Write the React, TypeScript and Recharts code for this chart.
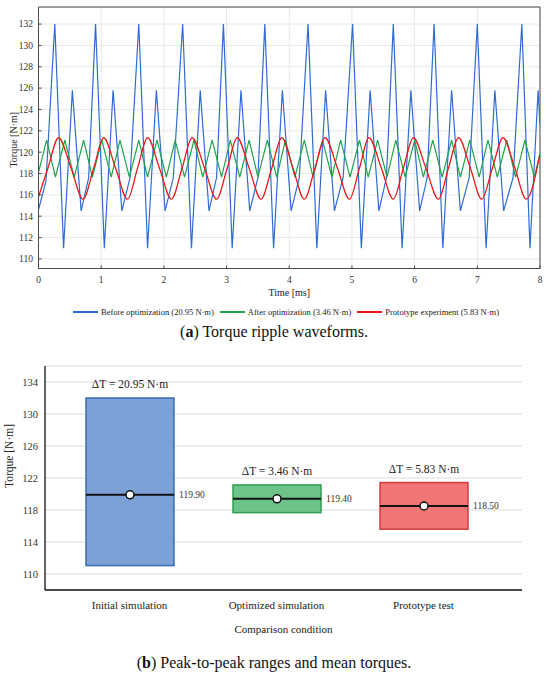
import React from "react";
import {
  LineChart,
  Line,
  BarChart,
  Bar,
  XAxis,
  YAxis,
  CartesianGrid,
  Label,
  ReferenceArea,
} from "recharts";

const FONT = '"Liberation Serif", "Times New Roman", serif';

// ---- (a) torque ripple waveforms: time [ms], torque [N·m]
const blueT = [
  0, 0.12, 0.26, 0.4, 0.54, 0.68, 0.8, 0.91, 1.05, 1.19, 1.33, 1.46, 1.6, 1.74,
  1.88, 2.02, 2.15, 2.3, 2.44, 2.58, 2.72, 2.84, 2.95, 3.09, 3.23, 3.37, 3.5,
  3.61, 3.75, 3.89, 4.03, 4.16, 4.3, 4.44, 4.58, 4.72, 4.86, 5.01, 5.15, 5.29,
  5.43, 5.55, 5.66, 5.8, 5.94, 6.08, 6.2, 6.31, 6.45, 6.59, 6.73, 6.87, 7.0,
  7.14, 7.28, 7.42, 7.57, 7.71, 7.84, 7.97, 8.0,
];
const blueV = [
  114.6, 117.3, 132, 111, 125.8, 114.5, 117.6, 132, 111, 125.8, 114.5, 117.6,
  132, 111, 125.8, 114.5, 117.6, 132, 111, 125.8, 114.5, 117.6, 132, 111, 125.8,
  114.5, 117.6, 132, 111, 125.8, 114.5, 117.6, 132, 111, 125.8, 114.5, 117.6,
  132, 111, 125.8, 114.5, 117.6, 132, 111, 125.8, 114.5, 117.6, 132, 111, 125.8,
  114.5, 117.6, 132, 111, 125.8, 114.5, 117.6, 132, 111, 125.8, 122.5,
];

const greenT = [
  0, 0.13, 0.27, 0.42, 0.57, 0.72, 0.86, 1.01, 1.16, 1.3, 1.45, 1.6, 1.74, 1.89,
  2.04, 2.18, 2.33, 2.48, 2.62, 2.77, 2.92, 3.06, 3.21, 3.36, 3.5, 3.65, 3.8,
  3.94, 4.09, 4.24, 4.38, 4.53, 4.68, 4.82, 4.97, 5.12, 5.26, 5.41, 5.56, 5.7,
  5.85, 6.0, 6.14, 6.29, 6.44, 6.59, 6.73, 6.88, 7.03, 7.17, 7.32, 7.47, 7.61,
  7.76, 7.91, 8.0,
];
const greenV = [
  118.1, 121.12, 117.66, 121.12, 117.66, 121.12, 117.66, 121.12, 117.66, 121.12,
  117.66, 121.12, 117.66, 121.12, 117.66, 121.12, 117.66, 121.12, 117.66,
  121.12, 117.66, 121.12, 117.66, 121.12, 117.66, 121.12, 117.66, 121.12,
  117.66, 121.12, 117.66, 121.12, 117.66, 121.12, 117.66, 121.12, 117.66,
  121.12, 117.66, 121.12, 117.66, 121.12, 117.66, 121.12, 117.66, 121.12,
  117.66, 121.12, 117.66, 121.12, 117.66, 121.12, 117.66, 121.12, 117.66, 119.9,
];

const redT = [
  0, 0.15, 0.32, 0.52, 0.71, 0.88, 1.04, 1.23, 1.42, 1.58, 1.74, 1.93, 2.12,
  2.29, 2.45, 2.65, 2.84, 3.01, 3.17, 3.36, 3.55, 3.72, 3.88, 4.06, 4.24, 4.41,
  4.57, 4.77, 4.96, 5.12, 5.27, 5.47, 5.66, 5.82, 5.98, 6.18, 6.38, 6.54, 6.7,
  6.89, 7.07, 7.24, 7.41, 7.6, 7.78, 8.0,
];
const redV = [
  115.8, 118.5, 121.35, 118.5, 115.6, 118.5, 121.35, 118.5, 115.6, 118.5,
  121.35, 118.5, 115.6, 118.5, 121.35, 118.5, 115.6, 118.5, 121.35, 118.5,
  115.6, 118.5, 121.35, 118.5, 115.6, 118.5, 121.35, 118.5, 115.6, 118.5,
  121.35, 118.5, 115.6, 118.5, 121.35, 118.5, 115.6, 118.5, 121.35, 118.5,
  115.6, 118.5, 121.35, 118.5, 115.6, 119.8,
];

const timeTicks = [0, 1, 2, 3, 4, 5, 6, 7, 8];
const torqueTicksA = [110, 112, 114, 116, 118, 120, 122, 124, 126, 128, 130, 132];

// ---- (b) peak-to-peak ranges
const conditions = ["Initial simulation", "Optimized simulation", "Prototype test"];
const lows = [111.05, 117.67, 115.6];
const highs = [132.0, 121.13, 121.43];
const means = [119.9, 119.4, 118.5];
const deltas = [20.95, 3.46, 5.83];
const torqueTicksB = [110, 114, 118, 122, 126, 130, 134];

const zip = (t: number[], v: number[]) => t.map((x, i) => ({ t: x, v: v[i] }));

const seriesA = [
  { name: "Before optimization (20.95 N·m)", color: "#2f6bd3", w: 1.2, data: zip(blueT, blueV), curve: "linear" },
  { name: "After optimization (3.46 N·m)", color: "#1ea24c", w: 1.2, data: zip(greenT, greenV), curve: "linear" },
  { name: "Prototype experiment (5.83 N·m)", color: "#e5191c", w: 1.3, data: zip(redT, redV), curve: "monotone" },
];

const boxColors = [
  { fill: "#7ba2d6", stroke: "#3d6db3" },
  { fill: "#6cc48a", stroke: "#2f9e4f" },
  { fill: "#f07575", stroke: "#d63b3b" },
];

const rowsB = conditions.map((name, i) => ({
  name,
  range: [lows[i], highs[i]],
  mean: means[i],
  delta: deltas[i],
}));

const vTitle = (text: string, x: number, dy: number, size: number) => (p: any) => {
  const cy = p.viewBox.y + p.viewBox.height / 2 + dy;
  return (
    <text
      x={x}
      y={cy}
      transform={`rotate(-90 ${x} ${cy})`}
      textAnchor="middle"
      dominantBaseline="central"
      fontSize={size}
      fontFamily={FONT}
      fill="#222"
    >
      {text}
    </text>
  );
};

const RangeBox = (props: any) => {
  const { x, y, width, height, payload } = props;
  const top = Math.min(y, y + height);
  const h = Math.abs(height);
  const [lo, hi] = payload.range;
  const my = top + (h * (hi - payload.mean)) / (hi - lo);
  const c = boxColors[conditions.indexOf(payload.name)];
  return (
    <g>
      <rect x={x} y={top} width={width} height={h} fill={c.fill} stroke={c.stroke} strokeWidth={1.5} />
      <line x1={x} x2={x + width} y1={my} y2={my} stroke="#111" strokeWidth={2} />
      <circle cx={x + width / 2} cy={my} r={4} fill="#fff" stroke="#111" strokeWidth={1.5} />
      <text x={x + width + 5} y={my} dominantBaseline="central" fontSize={9.5} fontFamily={FONT} fill="#333">
        {payload.mean.toFixed(2)}
      </text>
      <text x={x + width / 2} y={top - 10} textAnchor="middle" fontSize={11.5} fontFamily={FONT} fill="#222">
        {`ΔT = ${payload.delta.toFixed(2)} N·m`}
      </text>
    </g>
  );
};

const tickA = { fontSize: 9.5, fill: "#333", fontFamily: FONT };
const tickB = { fontSize: 10.5, fill: "#333", fontFamily: FONT };

const App: React.FC = () => {
  return (
    <div style={{ position: "absolute", left: 0, top: 0, width: 550, height: 675, fontFamily: FONT, background: "#fff" }}>
      <div style={{ position: "absolute", left: 0, top: 0 }}>
        <LineChart width={550} height={300} margin={{ top: 7, right: 10, bottom: 0, left: 0 }} style={{ fontFamily: FONT }}>
          <CartesianGrid xAxisId="b" yAxisId="l" stroke="#e2e2e2" strokeWidth={0.8} />
          <XAxis
            xAxisId="b"
            type="number"
            dataKey="t"
            domain={[0, 8]}
            ticks={timeTicks}
            interval={0}
            allowDataOverflow
            height={31.5}
            tickSize={-3}
            tickMargin={11}
            stroke="#4a4a4a"
            tick={tickA}
          >
            <Label value="Time [ms]" position="insideBottom" offset={4} fontSize={10} fontFamily={FONT} fill="#222" />
          </XAxis>
          <XAxis
            xAxisId="t"
            orientation="top"
            type="number"
            domain={[0, 8]}
            ticks={timeTicks}
            interval={0}
            height={0}
            tick={false}
            tickSize={-3}
            stroke="#4a4a4a"
          />
          <YAxis
            yAxisId="l"
            type="number"
            domain={[109.1, 133.6]}
            ticks={torqueTicksA}
            interval={0}
            allowDataOverflow
            width={38.5}
            tickSize={-3}
            tickMargin={8.5}
            stroke="#4a4a4a"
            tick={tickA}
          >
            <Label content={vTitle("Torque [N·m]", 13.5, 2, 10)} />
          </YAxis>
          <YAxis
            yAxisId="r"
            orientation="right"
            type="number"
            domain={[109.1, 133.6]}
            ticks={torqueTicksA}
            interval={0}
            width={0}
            tick={false}
            tickSize={-3}
            stroke="#4a4a4a"
          />
          {seriesA.map((s) => (
            <Line
              key={s.name}
              xAxisId="b"
              yAxisId="l"
              data={s.data}
              dataKey="v"
              name={s.name}
              type={s.curve as any}
              stroke={s.color}
              strokeWidth={s.w}
              dot={false}
              isAnimationActive={false}
            />
          ))}
          <ReferenceArea
            xAxisId="b"
            yAxisId="l"
            x1={0}
            x2={8}
            y1={109.1}
            y2={133.6}
            fill="none"
            fillOpacity={0}
            stroke="#4a4a4a"
            strokeWidth={1}
            ifOverflow="visible"
          />
        </LineChart>
      </div>

      <div
        style={{
          position: "absolute",
          left: 0,
          top: 306.5,
          width: 550,
          display: "flex",
          justifyContent: "center",
          alignItems: "center",
          fontSize: 8.5,
          lineHeight: "10px",
          color: "#222",
          paddingLeft: 28,
          boxSizing: "border-box",
        }}
      >
        {seriesA.map((s) => (
          <div key={s.name} style={{ display: "flex", alignItems: "center", marginRight: 6 }}>
            <div style={{ width: 25, height: 0, borderTop: `2px solid ${s.color}`, marginRight: 3 }} />
            <span>{s.name}</span>
          </div>
        ))}
      </div>

      <div style={{ position: "absolute", left: 0, top: 322, width: 548, textAlign: "center", fontSize: 16, lineHeight: "19px", color: "#111" }}>
        (<b>a</b>) Torque ripple waveforms.
      </div>

      <div style={{ position: "absolute", left: 0, top: 340 }}>
        <BarChart width={550} height={300} data={rowsB} margin={{ top: 26, right: 28, bottom: 0, left: 0 }} style={{ fontFamily: FONT }}>
          <CartesianGrid vertical={false} stroke="#dcdcdc" />
          <XAxis
            dataKey="name"
            height={50}
            padding={{ left: 11, right: 25 }}
            tickLine={false}
            tickSize={0}
            tickMargin={11}
            interval={0}
            stroke="#111"
            strokeWidth={1.3}
            tick={{ fontSize: 11, fill: "#222", fontFamily: FONT }}
          >
            <Label value="Comparison condition" position="insideBottom" offset={7} fontSize={11} fontFamily={FONT} fill="#222" />
          </XAxis>
          <YAxis
            type="number"
            domain={[108, 136]}
            ticks={torqueTicksB}
            interval={0}
            allowDataOverflow
            width={45}
            tickLine={false}
            tickSize={0}
            tickMargin={7}
            stroke="#111"
            strokeWidth={1.3}
            tick={tickB}
          >
            <Label content={vTitle("Torque [N·m]", 9, -22, 11.5)} />
          </YAxis>
          <Bar dataKey="range" barSize={88} shape={RangeBox} isAnimationActive={false} />
        </BarChart>
      </div>

      <div style={{ position: "absolute", left: 0, top: 653, width: 548, textAlign: "center", fontSize: 16, lineHeight: "19px", color: "#111" }}>
        (<b>b</b>) Peak-to-peak ranges and mean torques.
      </div>
    </div>
  );
};

export default App;
